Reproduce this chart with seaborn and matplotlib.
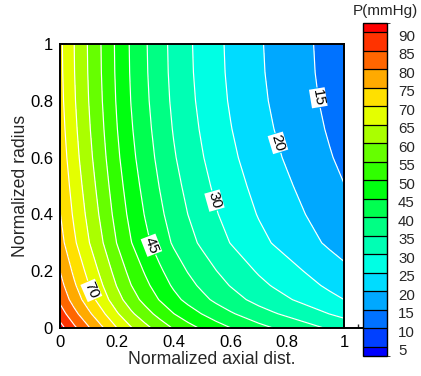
import numpy as np
import matplotlib
matplotlib.use("Agg")
import matplotlib.pyplot as plt
from matplotlib.cm import ScalarMappable
from matplotlib.colors import ListedColormap, BoundaryNorm
from matplotlib.ticker import MultipleLocator, FuncFormatter
from matplotlib.transforms import ScaledTranslation
import seaborn as sns

# Wall pressure (r = 1) along the normalized axial coordinate, mmHg
axial_pos = [0.0, 0.05, 0.10, 0.15, 0.20, 0.25, 0.30, 0.35, 0.40, 0.45, 0.50,
             0.55, 0.60, 0.65, 0.70, 0.75, 0.80, 0.85, 0.90, 0.95, 1.00]
wall_pressure = [71.0, 65.0, 59.6, 54.4, 49.1, 44.4, 40.5, 36.9, 33.6, 30.8, 28.4,
                 26.1, 24.1, 22.3, 20.5, 19.0, 17.6, 16.2, 14.8, 13.4, 12.1]

# Pressure rise towards the axis relative to the wall, mmHg
radial_pos = [0.0, 0.05, 0.10, 0.15, 0.20, 0.25, 0.30, 0.40, 0.50, 0.60, 0.70, 0.80, 0.90, 1.00]
radial_rise = [21.0, 16.5, 12.9, 10.7, 9.0, 7.4, 5.8, 4.2, 3.0, 1.9, 1.1, 0.5, 0.15, 0.0]

# Contour levels and legend bands (lowest band first)
line_levels = list(range(5, 95, 5))
band_edges = [2.5] + line_levels + [92.5]
band_colors = ["#0000ff", "#0040ff", "#0072ff", "#00a8ff", "#00dcff", "#00ffe4",
               "#00ffb4", "#00ff84", "#00ff50", "#00ff10", "#30ff00", "#66ff00",
               "#aaff00", "#e4ff00", "#ffe000", "#ffaa00", "#ff6600", "#ff3300",
               "#ff0000"]

labelled_levels = [15, 20, 30, 45, 70]
plain_levels = [v for v in line_levels if v not in labelled_levels]
label_spots = [(0.905, 0.81), (0.746, 0.645), (0.528, 0.444), (0.311, 0.286), (0.099, 0.127)]

sns.set_style("ticks")
plt.rcParams["font.family"] = ["Liberation Sans", "DejaVu Sans"]

X, R = np.meshgrid(axial_pos, radial_pos)
P = np.add.outer(radial_rise, wall_pressure)

cmap = ListedColormap(band_colors)
norm = BoundaryNorm(band_edges, cmap.N)
fill_edges = band_edges[:-1] + [200]

fig = plt.figure(figsize=(4.21, 3.76), dpi=100)
ax = fig.add_axes([60 / 421, 48 / 376, 302.5 / 421, 284 / 376])
cax = fig.add_axes([363 / 421, 20 / 376, 24 / 421, 333 / 376])

ax.contourf(X, R, P, levels=fill_edges, colors=band_colors)
ax.contour(X, R, P, levels=plain_levels, colors="white", linewidths=0.85)
cs_lab = ax.contour(X, R, P, levels=labelled_levels, colors="white", linewidths=0.85)
labels = cs_lab.clabel(manual=label_spots, fmt="%d", inline=True, inline_spacing=2,
                       fontsize=11, colors="black")
for t in labels:
    t.set_bbox(dict(boxstyle="square,pad=0.06", fc="white", ec="none"))

ax.set_xlim(0, 1.065)
ax.set_ylim(0, 1)
for side in ["top", "right", "bottom", "left"]:
    ax.spines[side].set_visible(True)
    ax.spines[side].set_linewidth(1.4)
    ax.spines[side].set_color("black")
ax.spines["top"].set_bounds(0, 1)
ax.spines["right"].set_position(("data", 1.0))

fmt = FuncFormatter(lambda v, _: "%g" % round(v, 2))
ax.xaxis.set_major_locator(MultipleLocator(0.2))
ax.xaxis.set_minor_locator(MultipleLocator(0.05))
ax.yaxis.set_major_locator(MultipleLocator(0.2))
ax.yaxis.set_minor_locator(MultipleLocator(0.05))
ax.xaxis.set_major_formatter(fmt)
ax.yaxis.set_major_formatter(fmt)
ax.set_xticks([0, 0.2, 0.4, 0.6, 0.8, 1.0])
ax.tick_params(axis="both", which="major", direction="in", length=5, width=1.1,
               labelsize=12, pad=5, colors="black", top=False, right=False)
ax.tick_params(axis="both", which="minor", direction="in", length=3, width=1.0,
               top=False, right=False)
ax.set_xlabel("Normalized axial dist.", fontsize=12.7, labelpad=1)
ax.set_ylabel("Normalized radius", fontsize=12.7, labelpad=1)

sm = ScalarMappable(norm=norm, cmap=cmap)
cb = fig.colorbar(sm, cax=cax, boundaries=band_edges, spacing="proportional",
                  ticks=line_levels, drawedges=True)
cb.outline.set_linewidth(1.0)
cb.outline.set_edgecolor("black")
cb.dividers.set_color("black")
cb.dividers.set_linewidth(0.9)
cb.ax.tick_params(length=0, labelsize=10.8, pad=8)
cb.ax.set_yticklabels([str(v) for v in line_levels])
shift = ScaledTranslation(0, -3 / 100, fig.dpi_scale_trans)
for lbl in cb.ax.get_yticklabels():
    lbl.set_transform(lbl.get_transform() + shift)
fig.text(385 / 421, 1 - 11.5 / 376, "P(mmHg)", ha="center", va="center", fontsize=11)

fig.savefig("out.png", dpi=100)
